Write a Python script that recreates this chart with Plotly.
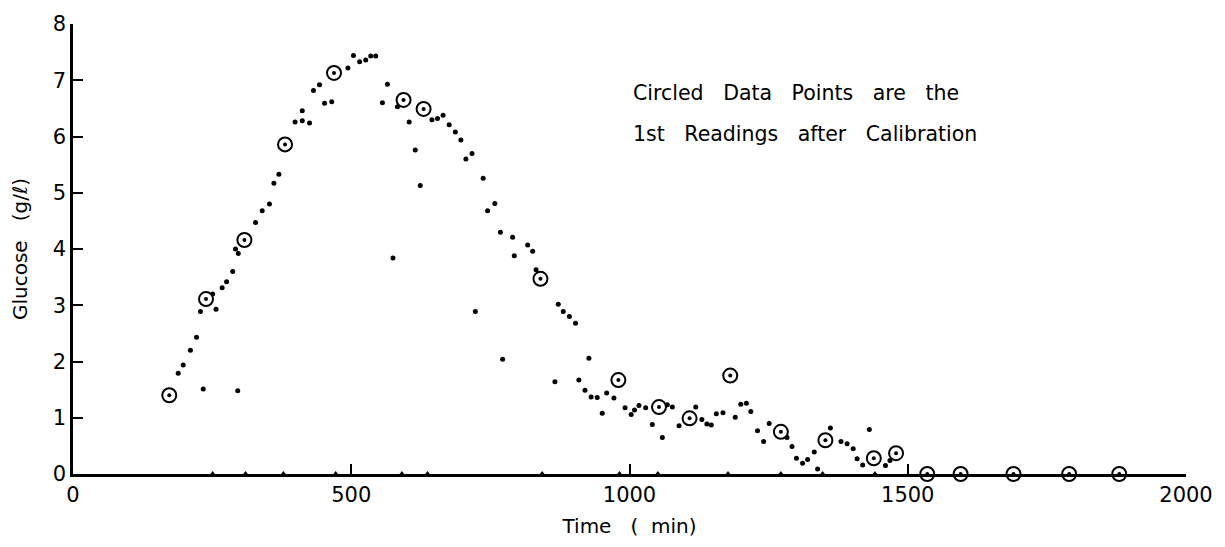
import plotly.graph_objects as go

# ---- data (time in min, glucose in g/l) ----
dot_time = [189, 198, 211, 222, 229, 234, 251, 257, 268, 276, 287, 292, 296, 297,
            328, 340, 353, 361, 370, 399, 412, 412, 425, 432, 443, 452, 465, 494,
            504, 515, 526, 535, 544, 556, 565, 575, 583, 604, 615, 624, 645, 655,
            665, 676, 687, 697, 706, 717, 723, 737, 745, 758, 768, 772, 790, 793,
            817, 826, 832, 866, 872, 881, 892, 903, 909, 920, 927, 931, 942, 951,
            959, 972, 992, 1003, 1009, 1017, 1029, 1041, 1059, 1068, 1077, 1089,
            1119, 1130, 1139, 1147, 1156, 1168, 1190, 1200, 1210, 1218, 1230, 1241,
            1251, 1283, 1292, 1300, 1311, 1320, 1332, 1338, 1361, 1380, 1391, 1402,
            1409, 1419, 1431, 1460, 1468]
dot_glucose = [1.79, 1.94, 2.20, 2.43, 2.89, 1.51, 3.20, 2.93, 3.31, 3.42, 3.60, 4.00, 1.48, 3.92,
               4.47, 4.68, 4.80, 5.17, 5.33, 6.26, 6.46, 6.28, 6.24, 6.82, 6.92, 6.59, 6.62, 7.22,
               7.44, 7.33, 7.36, 7.43, 7.43, 6.60, 6.93, 3.84, 6.53, 6.26, 5.76, 5.13, 6.30, 6.32,
               6.38, 6.21, 6.08, 5.94, 5.60, 5.70, 2.89, 5.26, 4.68, 4.81, 4.30, 2.04, 4.21, 3.88,
               4.07, 3.96, 3.63, 1.64, 3.02, 2.89, 2.80, 2.68, 1.67, 1.49, 2.06, 1.37, 1.36, 1.08,
               1.44, 1.35, 1.18, 1.06, 1.14, 1.22, 1.18, 0.88, 0.65, 1.23, 1.19, 0.86,
               1.19, 0.97, 0.89, 0.87, 1.07, 1.09, 1.01, 1.24, 1.26, 1.11, 0.77, 0.58,
               0.90, 0.65, 0.49, 0.28, 0.19, 0.26, 0.39, 0.09, 0.82, 0.58, 0.54, 0.45,
               0.27, 0.16, 0.79, 0.15, 0.24]

circ_time = [173, 239, 308, 381, 469, 594, 630, 840, 980, 1053, 1108, 1181, 1272,
             1352, 1439, 1479, 1535, 1595, 1690, 1790, 1880]
circ_glucose = [1.40, 3.11, 4.16, 5.86, 7.13, 6.65, 6.49, 3.47, 1.67, 1.19, 0.99, 1.75, 0.75,
                0.60, 0.28, 0.37, 0, 0, 0, 0, 0]

# small marks on the time axis (calibration instants)
mark_time = [251, 310, 378, 472, 591, 637, 843, 982, 1051, 1177, 1272, 1347, 1441]
mark_value = [0] * len(mark_time)

x_ticks = [0, 500, 1000, 1500, 2000]
y_ticks = [0, 1, 2, 3, 4, 5, 6, 7, 8]

note_lines = ["Circled   Data   Points   are   the", "1st   Readings   after   Calibration"]

FONT = "DejaVu Sans"

fig = go.Figure()
fig.add_trace(go.Scatter(x=mark_time, y=mark_value, mode="markers",
                         marker=dict(symbol="triangle-up", size=6, color="black"),
                         cliponaxis=False, showlegend=False, hoverinfo="skip"))
fig.add_trace(go.Scatter(x=dot_time, y=dot_glucose, mode="markers",
                         marker=dict(symbol="circle", size=5, color="black"),
                         cliponaxis=False, showlegend=False))
fig.add_trace(go.Scatter(x=circ_time, y=circ_glucose, mode="markers",
                         marker=dict(symbol="circle", size=14, color="white",
                                     line=dict(color="black", width=2)),
                         cliponaxis=False, showlegend=False))
fig.add_trace(go.Scatter(x=circ_time, y=circ_glucose, mode="markers",
                         marker=dict(symbol="circle", size=4, color="black"),
                         cliponaxis=False, showlegend=False))

fig.add_annotation(x=1002, y=6.77, xref="x", yref="y", text=note_lines[0],
                   showarrow=False, xanchor="left", yanchor="middle",
                   font=dict(family=FONT, size=20.5, color="black"))
fig.add_annotation(x=1002, y=6.05, xref="x", yref="y", text=note_lines[1],
                   showarrow=False, xanchor="left", yanchor="middle",
                   font=dict(family=FONT, size=20.5, color="black"))

fig.update_layout(
    width=1225, height=547,
    margin=dict(l=73, r=37, t=20, b=71),
    paper_bgcolor="white", plot_bgcolor="white",
    font=dict(family=FONT, color="black"),
    showlegend=False,
)
fig.update_xaxes(range=[0, 2000], tickvals=x_ticks, ticktext=[str(v) for v in x_ticks],
                 ticks="inside", ticklen=10, tickwidth=2, tickcolor="black",
                 showline=True, linecolor="black", linewidth=2.5,
                 showgrid=False, zeroline=False,
                 tickfont=dict(family=FONT, size=21, color="black"),
                 title=dict(text="Time   (  min)", font=dict(family=FONT, size=20, color="black"),
                            standoff=14))
fig.update_yaxes(range=[0, 8], tickvals=y_ticks, ticktext=[str(v) for v in y_ticks],
                 ticks="inside", ticklen=10, tickwidth=2, tickcolor="black",
                 showline=True, linecolor="black", linewidth=2.5,
                 showgrid=False, zeroline=False,
                 tickfont=dict(family=FONT, size=21, color="black"),
                 title=dict(text="Glucose   (g/ℓ)", font=dict(family=FONT, size=20, color="black"),
                            standoff=20))

fig.write_html("out.html")
